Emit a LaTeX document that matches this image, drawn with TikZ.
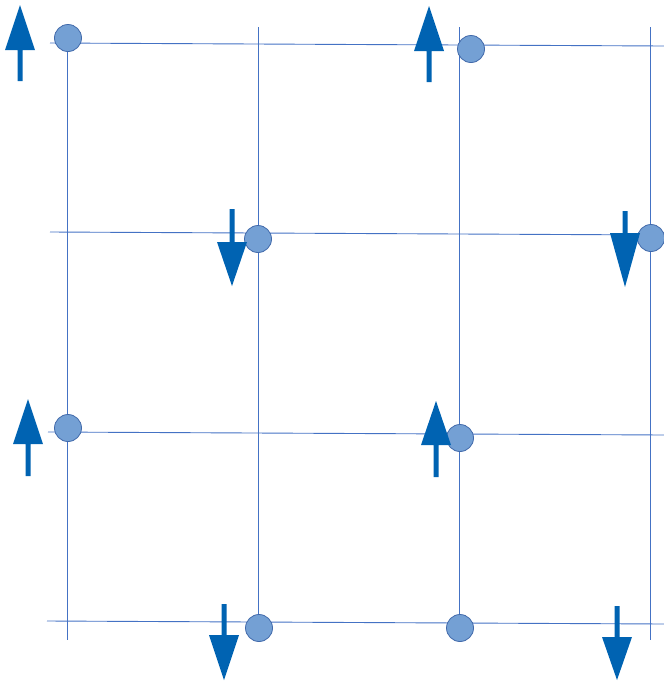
\documentclass[tikz,border=0pt]{standalone}
\definecolor{gridcol}{RGB}{68,114,196}
\definecolor{dotfill}{RGB}{116,160,212}
\definecolor{dotline}{RGB}{65,105,170}
\definecolor{arrowcol}{RGB}{0,99,178}
\tikzset{
  gridline/.style={draw=gridcol,line width=0.9pt},
  dot/.style={circle,minimum size=27pt,inner sep=0pt,fill=dotfill,draw=dotline,line width=0.8pt},
}
\newcommand{\blkarrow}[4]{% x, tail y, head base y, tip y
  \fill[arrowcol] (#1-2.5,#2) -- (#1-2.5,#3) -- (#1-15,#3) -- (#1,#4) -- (#1+15,#3) -- (#1+2.5,#3) -- (#1+2.5,#2) -- cycle;}
\begin{document}
\begin{tikzpicture}[x={(1pt,0pt)},y={(0pt,-1pt)}]
\useasboundingbox (0,0) rectangle (664,681);
% horizontal lines
\draw[gridline] (50,43) -- (664,46);
\draw[gridline] (50,232) -- (664,235);
\draw[gridline] (48,432) -- (664,435);
\draw[gridline] (47,621) -- (664,624);
% vertical lines
\draw[gridline] (67,40) -- (67,640);
\draw[gridline] (258,27) -- (258,622);
\draw[gridline] (459,27) -- (459,623);
\draw[gridline] (650,27) -- (650,640);
% dots
\node[dot] (d1) at (68,38) {};
\node[dot] (d2) at (471,49) {};
\node[dot] (d3) at (258,239) {};
\node[dot] (d4) at (651,238) {};
\node[dot] (d5) at (68,428) {};
\node[dot] (d6) at (460,438) {};
\node[dot] (d7) at (259,628) {};
\node[dot] (d8) at (460,628) {};
% arrows
\blkarrow{20}{81}{50}{5}
\blkarrow{429}{82}{51}{6}
\blkarrow{232}{209}{242}{286}
\blkarrow{625}{211}{233}{287}
\blkarrow{28}{476}{444}{399}
\blkarrow{436}{477}{445}{401}
\blkarrow{224}{604}{635}{680}
\blkarrow{617}{606}{637}{680}
\end{tikzpicture}
\end{document}
